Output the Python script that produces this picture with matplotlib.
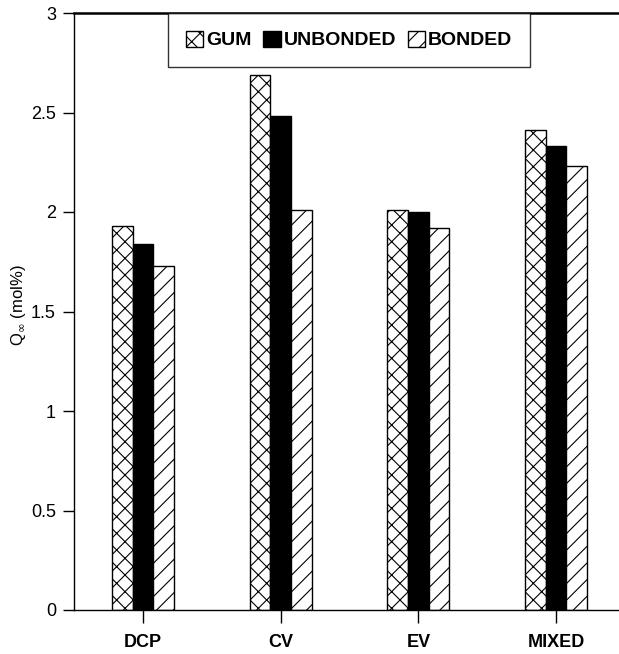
import matplotlib
matplotlib.use("Agg")
import matplotlib.pyplot as plt
import numpy as np

# values
categories = ["DCP", "CV", "EV", "MIXED"]
series_names = ["GUM", "UNBONDED", "BONDED"]
gum = [1.93, 2.69, 2.01, 2.41]
unbonded = [1.84, 2.48, 2.00, 2.33]
bonded = [1.73, 2.01, 1.92, 2.23]
y_ticks = [0, 0.5, 1, 1.5, 2, 2.5, 3]
y_tick_labels = ["0", "0.5", "1", "1.5", "2", "2.5", "3"]

plt.rcParams['font.family'] = ['Liberation Sans', 'DejaVu Sans']
plt.rcParams['hatch.linewidth'] = 0.8
plt.rcParams['hatch.color'] = 'black'

fig = plt.figure(figsize=(6.19, 6.54), dpi=100, facecolor='w')
ax = fig.add_axes([74/619, 44/654, 551/619, 597/654])

x = np.arange(1, len(categories) + 1)
w = 0.15
ax.bar(x - w, gum, w, color='white', edgecolor='black', hatch='xx',
       linewidth=1, label=series_names[0])
ax.bar(x, unbonded, w, color='black', edgecolor='black',
       linewidth=1, label=series_names[1])
ax.bar(x + w, bonded, w, color='white', edgecolor='black', hatch='//',
       linewidth=1, label=series_names[2])

ax.set_xlim(0.5, 4.5)
ax.set_ylim(0, 3)
ax.set_xticks(x)
ax.set_xticklabels(categories, fontsize=13, fontweight='bold')
ax.set_yticks(y_ticks)
ax.set_yticklabels(y_tick_labels, fontsize=13)
ax.tick_params(axis='y', direction='out', length=8, width=1, pad=5)
ax.tick_params(axis='x', direction='out', length=9, width=1, pad=8)

ax.spines['right'].set_visible(False)
ax.spines['top'].set_linewidth(1.8)
ax.spines['left'].set_linewidth(1)
ax.spines['bottom'].set_linewidth(1)

fig.text(18/619, 1 - 305/654, r'Q$_\infty$ (mol%)', rotation=90, fontsize=12,
         ha='center', va='center')

leg = ax.legend(loc='upper center', bbox_to_anchor=(0.499, 1.0), ncol=3,
                prop={'size': 14, 'weight': 'bold'}, frameon=True,
                fancybox=False, edgecolor='black',
                handlelength=0.9, handleheight=0.9, handletextpad=0.15,
                columnspacing=0.6, borderpad=0.9, borderaxespad=0)
leg.get_frame().set_linewidth(1)

fig.savefig("out.png", dpi=100)
